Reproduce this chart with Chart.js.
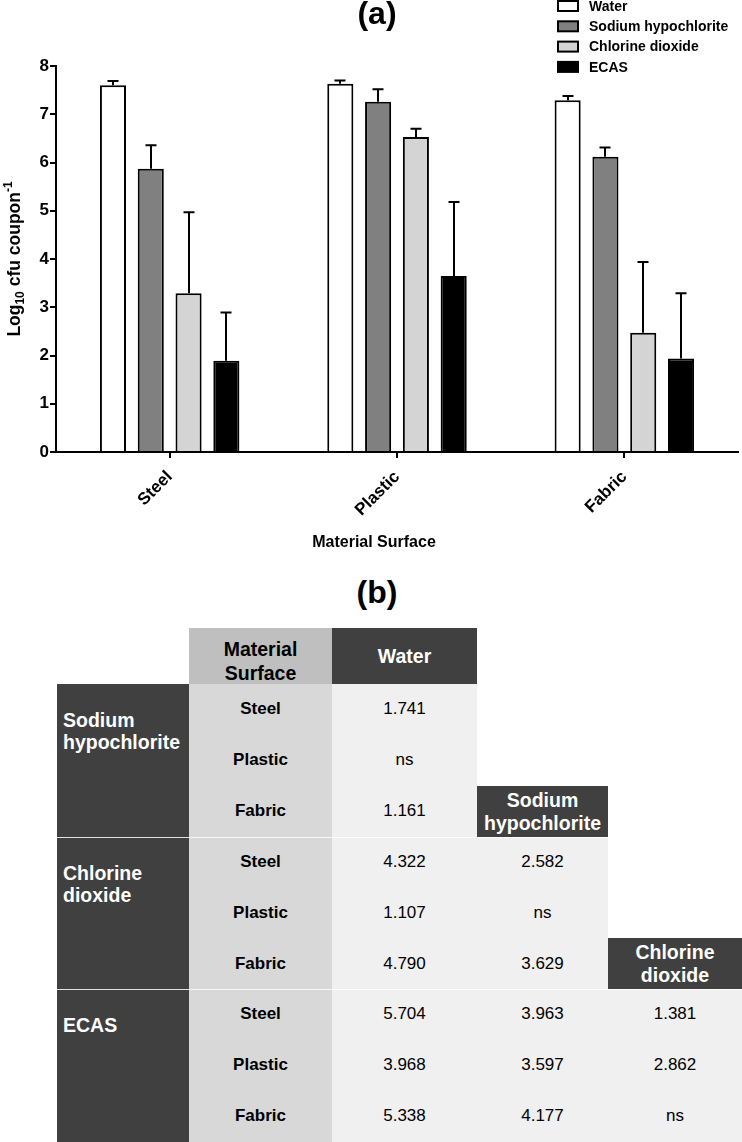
<!DOCTYPE html>
<html>
<head>
<meta charset="utf-8">
<script src="https://cdn.jsdelivr.net/npm/chart.js@4/dist/chart.umd.min.js"></script>
<style>
  html, body { margin: 0; padding: 0; background: #fff; }
  #wrap { position: relative; width: 742px; height: 1142px; overflow: hidden; font-family: 'Liberation Sans', Arial, sans-serif; }
  #c { position: absolute; left: 0; top: 0; }
  .cell { position: absolute; box-sizing: border-box; display: flex; align-items: center; justify-content: center; text-align: center; }
  .hdr { color: #fff; font-weight: bold; font-size: 19.5px; line-height: 22.5px; }
  .lbl { color: #000; font-weight: bold; font-size: 17px; }
  .num { color: #000; font-size: 17px; }
  #btitle { position: absolute; left: 0; width: 754px; top: 576px; text-align: center; font-weight: bold; font-size: 32px; line-height: 32px; }
</style>
</head>
<body>
<div id="wrap">
  <canvas id="c" width="742" height="570"></canvas>
  <div id="btitle">(b)</div>
  <div id="table"></div>
</div>
<script>
// ---------- Data: panel (a) ----------
const categories = ['Steel', 'Plastic', 'Fabric'];
const seriesNames = ['Water', 'Sodium hypochlorite', 'Chlorine dioxide', 'ECAS'];
const waterMean = [7.60, 7.63, 7.29];
const waterErr = [0.09, 0.07, 0.09];
const sodiumMean = [5.87, 7.26, 6.12];
const sodiumErr = [0.49, 0.26, 0.19];
const dioxideMean = [3.29, 6.53, 2.47];
const dioxideErr = [1.68, 0.17, 1.47];
const ecasMean = [1.89, 3.65, 1.94];
const ecasErr = [1.00, 1.53, 1.35];
const yTicks = [0, 1, 2, 3, 4, 5, 6, 7, 8];

// ---------- Data: panel (b) ----------
const surfaces = ['Steel', 'Plastic', 'Fabric'];
const rowTreatments = ['Sodium hypochlorite', 'Chlorine dioxide', 'ECAS'];
const colTreatments = ['Water', 'Sodium hypochlorite', 'Chlorine dioxide'];
const sodiumVsWater = ['1.741', 'ns', '1.161'];
const dioxideVsWater = ['4.322', '1.107', '4.790'];
const dioxideVsSodium = ['2.582', 'ns', '3.629'];
const ecasVsWater = ['5.704', '3.968', '5.338'];
const ecasVsSodium = ['3.963', '3.597', '4.177'];
const ecasVsDioxide = ['1.381', '2.862', 'ns'];

const FONT = "'Liberation Sans', Arial, sans-serif";
const fills = ['#ffffff', '#808080', '#d4d4d4', '#000000'];
const means = [waterMean, sodiumMean, dioxideMean, ecasMean];
const errs = [waterErr, sodiumErr, dioxideErr, ecasErr];

const errorBars = {
  id: 'errorBars',
  afterDatasetsDraw(chart) {
    const ctx = chart.ctx, y = chart.scales.y;
    ctx.save();
    ctx.strokeStyle = '#000';
    ctx.lineWidth = 2;
    chart.data.datasets.forEach((ds, di) => {
      const meta = chart.getDatasetMeta(di);
      meta.data.forEach((bar, i) => {
        const top = y.getPixelForValue(ds.data[i] + ds.errorUp[i]);
        const x = Math.round(bar.x);
        ctx.beginPath();
        ctx.moveTo(x, bar.y);
        ctx.lineTo(x, top);
        ctx.moveTo(x - 5.5, top);
        ctx.lineTo(x + 5.5, top);
        ctx.stroke();
      });
    });
    ctx.restore();
  }
};

const decorations = {
  id: 'decorations',
  afterDraw(chart) {
    const ctx = chart.ctx, area = chart.chartArea;
    ctx.save();
    ctx.fillStyle = '#000';
    // Title (a)
    ctx.font = 'bold 32px ' + FONT;
    ctx.textAlign = 'center';
    ctx.textBaseline = 'alphabetic';
    ctx.fillText('(a)', 377, 24);
    // Legend
    ctx.font = 'bold 14px ' + FONT;
    ctx.textAlign = 'left';
    ctx.textBaseline = 'middle';
    chart.data.datasets.forEach((ds, i) => {
      const cy = 6 + i * 20.3;
      ctx.fillStyle = '#000';
      ctx.fillRect(557, cy - 6, 22, 12);
      ctx.fillStyle = ds.backgroundColor;
      ctx.fillRect(559, cy - 4, 18, 8);
      ctx.fillStyle = '#000';
      ctx.fillText(ds.label, 589, cy + 1);
    });
    // Y axis title with sub/superscript
    const cy = (area.top + area.bottom) / 2;
    ctx.translate(20, cy);
    ctx.rotate(-Math.PI / 2);
    ctx.textBaseline = 'alphabetic';
    const big = 'bold 17.5px ' + FONT, small = 'bold 12px ' + FONT;
    const parts = [['Log', big, 0], ['10', small, 4], [' cfu coupon', big, 0], ['-1', small, -8]];
    let total = 0;
    parts.forEach(p => { ctx.font = p[1]; total += ctx.measureText(p[0]).width; });
    let x = -total / 2;
    parts.forEach(p => { ctx.font = p[1]; ctx.fillText(p[0], x, p[2]); x += ctx.measureText(p[0]).width; });
    ctx.setTransform(1, 0, 0, 1, 0, 0);
    // X axis title
    ctx.font = 'bold 16px ' + FONT;
    ctx.textAlign = 'center';
    ctx.textBaseline = 'middle';
    ctx.fillText('Material Surface', 374, 543);
    ctx.restore();
  }
};

new Chart(document.getElementById('c'), {
  type: 'bar',
  data: {
    labels: categories,
    datasets: seriesNames.map((name, i) => ({
      label: name,
      data: means[i],
      errorUp: errs[i],
      backgroundColor: fills[i],
      borderColor: '#000',
      borderWidth: 2,
      borderSkipped: 'start',
      categoryPercentage: 0.665,
      barPercentage: 0.69
    }))
  },
  options: {
    responsive: false,
    devicePixelRatio: 1,
    animation: false,
    layout: { padding: { top: 66, right: 4, left: 0, bottom: 0 } },
    plugins: { legend: { display: false }, title: { display: false }, tooltip: { enabled: false } },
    scales: {
      x: {
        grid: { display: true, drawOnChartArea: false, offset: false, color: '#000', lineWidth: 2, tickLength: 6 },
        border: { display: true, color: '#000', width: 2 },
        ticks: { color: '#000', font: { family: FONT, size: 17, weight: 'bold' }, minRotation: 45, maxRotation: 45, padding: 9 },
        afterFit(s) { s.height = 570 - 452; }
      },
      y: {
        min: 0, max: 8,
        grid: { display: true, drawOnChartArea: false, color: '#000', lineWidth: 2, tickLength: 6 },
        border: { display: true, color: '#000', width: 2 },
        afterBuildTicks(s) { s.ticks = yTicks.map(v => ({ value: v })); },
        ticks: { color: '#000', font: { family: FONT, size: 17, weight: 'bold' }, padding: 1 },
        afterFit(s) { s.width = 56; }
      }
    }
  },
  plugins: [errorBars, decorations]
});

// ---------- Table (b) ----------
const colX = [57, 189, 332, 477, 608, 742];
const headTop = 628, headBot = 684;
const blockTops = [684, 837, 989];
const blockH = 152.5, rowH = blockH / 3;
const DARK = '#404040', HEADGREY = '#bfbfbf', COLGREY = '#d8d8d8', LIGHT = '#f0f0f0';
const tableEl = document.getElementById('table');
function cell(x0, x1, y0, y1, bg, cls, html, extra) {
  const d = document.createElement('div');
  d.className = 'cell ' + (cls || '');
  d.style.left = x0 + 'px'; d.style.top = y0 + 'px';
  d.style.width = (x1 - x0) + 'px'; d.style.height = (y1 - y0) + 'px';
  if (bg) d.style.background = bg;
  if (html) d.innerHTML = html;
  if (extra) Object.assign(d.style, extra);
  tableEl.appendChild(d);
  return d;
}
// backgrounds
cell(colX[1], colX[2], headTop, headBot, HEADGREY, 'lbl', 'Material<br>Surface', { fontSize: '19.5px', lineHeight: '24px', paddingTop: '9px' });
cell(colX[2], colX[3], headTop, headBot, DARK, 'hdr', colTreatments[0]);
cell(colX[1], colX[2], headBot, 1142, COLGREY);
cell(colX[2], colX[3], headBot, 1142, LIGHT);
cell(colX[3], colX[4], blockTops[1], 1142, LIGHT);
cell(colX[4], colX[5], blockTops[2], 1142, LIGHT);
// column headers placed in the last row of the preceding block
cell(colX[3], colX[4], blockTops[1] - rowH, blockTops[1], DARK, 'hdr', colTreatments[1].replace(' ', '<br>'));
cell(colX[4], colX[5], blockTops[2] - rowH, blockTops[2], DARK, 'hdr', colTreatments[2].replace(' ', '<br>'));
// row headers
rowTreatments.forEach((t, b) => {
  cell(colX[0], colX[1], blockTops[b], b < 2 ? blockTops[b + 1] : 1142, DARK, 'hdr', t.replace(' ', '<br>'),
    { alignItems: 'flex-start', justifyContent: 'flex-start', textAlign: 'left', paddingLeft: '6px', paddingTop: '24.5px' });
});
// separators between blocks
[blockTops[1], blockTops[2]].forEach(y => cell(colX[0], colX[5], y - 0.5, y + 1, 'rgba(255,255,255,0.85)'));
// body values
const blockValues = [
  [sodiumVsWater],
  [dioxideVsWater, dioxideVsSodium],
  [ecasVsWater, ecasVsSodium, ecasVsDioxide]
];
blockValues.forEach((cols, b) => {
  surfaces.forEach((s, r) => {
    const y0 = blockTops[b] + r * rowH, y1 = y0 + rowH;
    cell(colX[1], colX[2], y0, y1, null, 'lbl', s);
    cols.forEach((vals, c) => cell(colX[2 + c], colX[3 + c], y0, y1, null, 'num', vals[r]));
  });
});
</script>
</body>
</html>
